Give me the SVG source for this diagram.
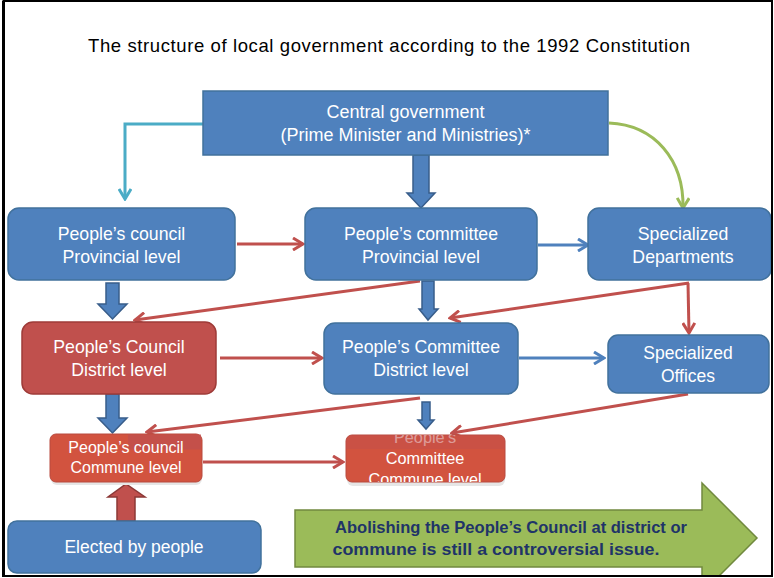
<svg xmlns="http://www.w3.org/2000/svg" width="774" height="578" viewBox="0 0 774 578">
<style>
.t{font-family:"Liberation Sans",Arial,sans-serif;fill:#fff;text-anchor:middle}
.blue{fill:#4F81BD;stroke:#41719C;stroke-width:1.5}
.red{fill:#C0504D;stroke:#9E3B38;stroke-width:1.5}
.com{fill:#D2533F;stroke:#B84A3E;stroke-width:1}
.bl{fill:#4F81BD;stroke:#385D8A;stroke-width:1.5}
.ln{fill:none;stroke-width:3}
.g{font-family:"Liberation Sans",Arial,sans-serif;font-weight:bold;fill:#1F3468;text-anchor:middle}
</style>
<defs>
<marker id="mr" markerUnits="userSpaceOnUse" viewBox="0 0 14 14" markerWidth="14" markerHeight="14" refX="12" refY="7" orient="auto"><path d="M2,1 L12,7 L2,13" fill="none" stroke="#C0504D" stroke-width="3"/></marker>
<marker id="mb" markerUnits="userSpaceOnUse" viewBox="0 0 14 14" markerWidth="14" markerHeight="14" refX="12" refY="7" orient="auto"><path d="M2,1 L12,7 L2,13" fill="none" stroke="#4F81BD" stroke-width="3"/></marker>
<marker id="mc" markerUnits="userSpaceOnUse" viewBox="0 0 14 14" markerWidth="14" markerHeight="14" refX="12" refY="7" orient="auto"><path d="M2,1 L12,7 L2,13" fill="none" stroke="#4BACC6" stroke-width="3"/></marker>
<marker id="mg" markerUnits="userSpaceOnUse" viewBox="0 0 14 14" markerWidth="14" markerHeight="14" refX="12" refY="7" orient="auto"><path d="M2,1 L12,7 L2,13" fill="none" stroke="#9BBB59" stroke-width="3"/></marker>
<clipPath id="cc"><rect x="346" y="435" width="159" height="47" rx="6"/></clipPath>
</defs>
<rect x="0" y="0" width="774" height="578" fill="#fff"/>

<text x="389" y="52" font-family="Liberation Sans,Arial,sans-serif" font-size="18.5" fill="#000" text-anchor="middle" textLength="602" lengthAdjust="spacing">The structure of local government according to the 1992 Constitution</text>

<g id="connectors">
<polyline class="ln" points="203,124 125,124 125,199" stroke="#4BACC6" marker-end="url(#mc)"/>
<path class="ln" d="M609,123 C655,125 684,160 683,208" stroke="#9BBB59" marker-end="url(#mg)"/>
<polygon class="bl" points="413,155 429,155 429,193 435,193 421,208 407,193 413,193"/>
<line class="ln" x1="237" y1="244" x2="303" y2="244" stroke="#C0504D" marker-end="url(#mr)"/>
<line class="ln" x1="538" y1="245" x2="588" y2="245" stroke="#4F81BD" marker-end="url(#mb)"/>
<polygon class="bl" points="106,283 119,283 119,304 127,304 112.5,319 98,304 106,304"/>
<polygon class="bl" points="422,281 434,281 434,309 438,309 428,320 419,309 422,309"/>
<line class="ln" x1="420" y1="281" x2="135" y2="320" stroke="#C0504D" marker-end="url(#mr)"/>
<polyline class="ln" points="688,283 689,333" stroke="#C0504D" marker-end="url(#mr)"/>
<line class="ln" x1="689" y1="283" x2="450" y2="318" stroke="#C0504D" marker-end="url(#mr)"/>
<line class="ln" x1="220" y1="358" x2="322" y2="358" stroke="#C0504D" marker-end="url(#mr)"/>
<line class="ln" x1="519" y1="358" x2="604" y2="358" stroke="#4F81BD" marker-end="url(#mb)"/>
<polygon class="bl" points="106,394 119,394 119,418 127,418 112.5,433 98,418 106,418"/>
<polygon class="bl" points="422,402 430,402 430,420 434,420 426,429 418,420 422,420"/>
<line class="ln" x1="420" y1="398" x2="147" y2="432" stroke="#C0504D" marker-end="url(#mr)"/>
<line class="ln" x1="688" y1="394" x2="452" y2="433" stroke="#C0504D" marker-end="url(#mr)"/>
<line class="ln" x1="203" y1="462" x2="343" y2="462" stroke="#C0504D" marker-end="url(#mr)"/>
<polygon points="117,521 135,521 135,497 145,497 126,484 108,497 117,497" fill="#C0504D" stroke="#8C3836" stroke-width="1.5"/>
</g>

<g id="central">
<rect class="blue" x="203" y="91" width="405" height="64"/>
<text class="t" x="405.5" y="118" font-size="18">Central government</text>
<text class="t" x="405.5" y="141" font-size="18">(Prime Minister and Ministries)*</text>
</g>

<g id="council-province">
<rect class="blue" x="8" y="208" width="227" height="72" rx="11"/>
<text class="t" x="121.5" y="240" font-size="17.7">People’s council</text>
<text class="t" x="121.5" y="263" font-size="17.7">Provincial level</text>
</g>

<g id="committee-province">
<rect class="blue" x="305" y="208" width="232" height="72" rx="11"/>
<text class="t" x="421" y="240" font-size="17.7">People’s committee</text>
<text class="t" x="421" y="263" font-size="17.7">Provincial level</text>
</g>

<g id="departments">
<rect class="blue" x="588" y="208" width="183" height="72" rx="11"/>
<text class="t" x="683" y="240" font-size="17.7">Specialized</text>
<text class="t" x="683" y="263" font-size="17.7">Departments</text>
</g>

<g id="council-district">
<rect class="red" x="22" y="322" width="194" height="72" rx="11"/>
<text class="t" x="119" y="353" font-size="17.7">People’s  Council</text>
<text class="t" x="119" y="376" font-size="17.7">District level</text>
</g>

<g id="committee-district">
<rect class="blue" x="324" y="323" width="194" height="71" rx="11"/>
<text class="t" x="421" y="353" font-size="17.7">People’s Committee</text>
<text class="t" x="421" y="376" font-size="17.7">District level</text>
</g>

<g id="offices">
<rect class="blue" x="608" y="335" width="161" height="58" rx="10"/>
<text class="t" x="688" y="359" font-size="17.5">Specialized</text>
<text class="t" x="688" y="382" font-size="17.5">Offices</text>
</g>

<g id="council-commune">
<rect x="51" y="436" width="151" height="49" rx="6" fill="#E6E6E6"/>
<rect class="com" x="50" y="434" width="152" height="48" rx="6"/>
<rect x="128" y="434.5" width="73" height="15" fill="#C0504D" opacity="0.8"/>
<text class="t" x="126" y="453" font-size="16">People’s  council</text>
<text class="t" x="126" y="473" font-size="16">Commune level</text>
</g>

<g id="committee-commune">
<rect x="347" y="437" width="158" height="49" rx="6" fill="#E6E6E6"/>
<rect class="com" x="346" y="435" width="159" height="47" rx="6"/>
<g clip-path="url(#cc)">
<text class="t" x="425" y="443" font-size="16.3" fill-opacity="0.8">People’s</text>
<rect x="346" y="435" width="159" height="14" fill="#C0504D" opacity="0.45"/>
<text class="t" x="425" y="464" font-size="16.3">Committee</text>
<text class="t" x="425" y="485" font-size="16.3">Commune level</text>
</g>
</g>

<g id="elected">
<rect class="blue" x="8" y="521" width="253" height="52" rx="9"/>
<text class="t" x="134" y="553" font-size="17.5">Elected by people</text>
</g>

<g id="note">
<polygon points="295,510 702,510 702,483 757,538 702,593 702,567 295,567" fill="#9BBB59" stroke="#71893F" stroke-width="1.5"/>
<text class="g" x="511" y="533" font-size="16" textLength="352" lengthAdjust="spacingAndGlyphs">Abolishing the People’s Council at district or</text>
<text class="g" x="496" y="555" font-size="16" textLength="327" lengthAdjust="spacingAndGlyphs">commune is still a controversial issue.</text>
</g>

<rect x="0" y="576" width="774" height="2" fill="#fff"/>
<rect x="772" y="0" width="2" height="578" fill="#fff"/>
<rect x="3.5" y="1" width="768.5" height="575" fill="none" stroke="#000" stroke-width="2"/>
<rect x="2" y="1" width="3" height="576" fill="#000"/>
</svg>
